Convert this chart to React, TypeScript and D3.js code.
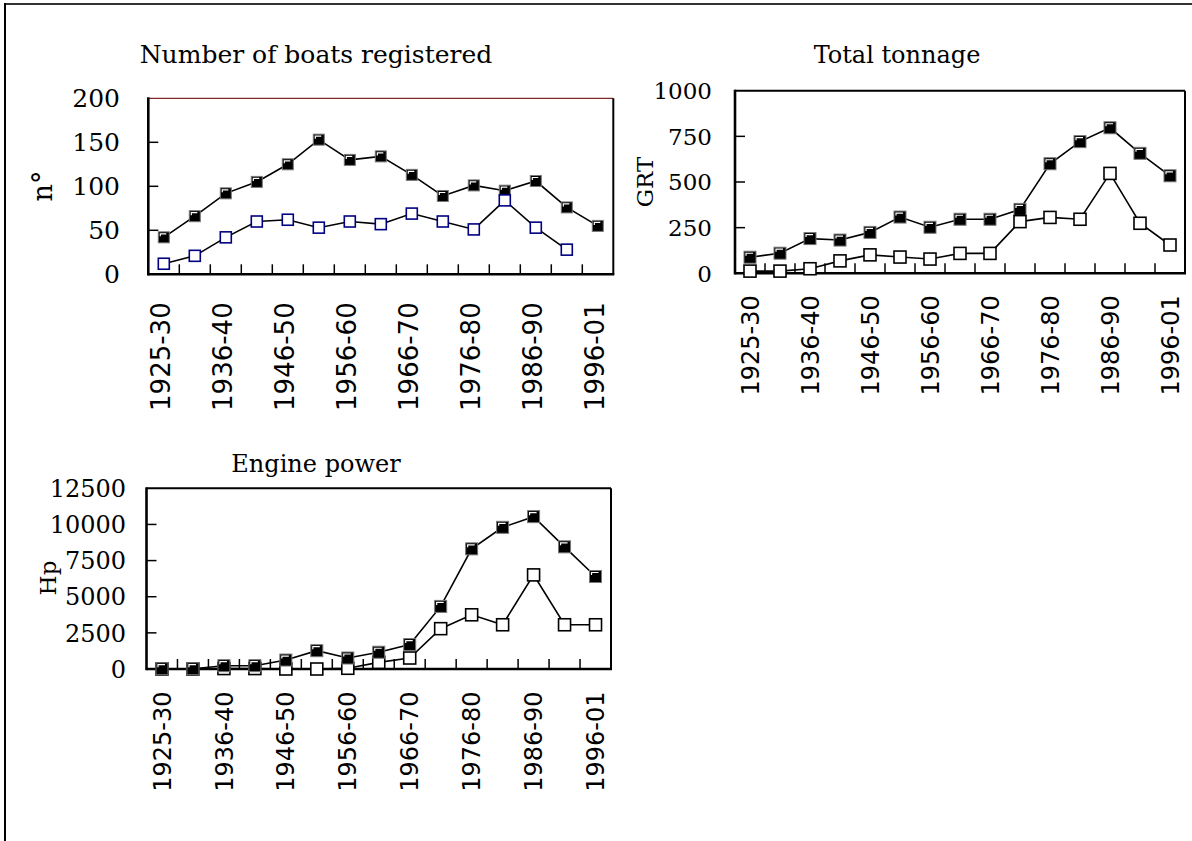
import React from "react";
import * as d3 from "d3";

const categories = [
  "1925-30", "1931-35", "1936-40", "1941-45", "1946-50", "1951-55", "1956-60", "1961-65",
  "1966-70", "1971-75", "1976-80", "1981-85", "1986-90", "1991-95", "1996-01",
];

const boatsTotal = [42, 66, 92, 105, 125, 153, 130, 134, 113, 89, 101, 95, 106, 76, 55];
const boatsActive: (number | null)[] = [12, 21, 42, 60, 62, 53, 60, 57, 69, 60, 51, 84, 53, 28, null];

const tonnageTotal = [88, 110, 190, 182, 224, 308, 252, 296, 296, 350, 600, 721, 797, 657, 534];
const tonnageActive = [12, 12, 25, 68, 101, 89, 78, 109, 109, 283, 306, 296, 547, 274, 155];

const powerTotal = [20, 20, 230, 230, 620, 1266, 760, 1160, 1690, 4330, 8310, 9800, 10540, 8450, 6400];
const powerActive = [0, 0, 30, 30, 0, 0, 50, 460, 760, 2790, 3750, 3060, 6510, 3060, 3060];

const boatsTicks = [0, 50, 100, 150, 200];
const tonnageTicks = [0, 250, 500, 750, 1000];
const powerTicks = [0, 2500, 5000, 7500, 10000, 12500];

type Series = { values: (number | null)[]; kind: "black" | "blue" | "white" };
type PanelCfg = {
  title: string; yLabel: string;
  x0: number; x1: number; y0: number; y1: number;
  yTicks: number[]; tickFont: number; tickRight: number;
  titleX: number; titleY: number; titleFont: number;
  yLabelX: number; yLabelY: number; yLabelFont: number;
  xLabelGap: number; xLabelDx: number; xLabelFont: number; topColor: string; topWidth: number;
  markerSize: number; series: Series[];
};

const panels: PanelCfg[] = [
  {
    title: "Number of boats registered", yLabel: "n°",
    x0: 148.3, x1: 613.3, y0: 98.3, y1: 274.3,
    yTicks: boatsTicks, tickFont: 25, tickRight: 120,
    titleX: 316, titleY: 63, titleFont: 25,
    yLabelX: 42, yLabelY: 186, yLabelFont: 27,
    xLabelGap: 28, xLabelDx: -3, xLabelFont: 26, topColor: "#7f2a2a", topWidth: 1.2,
    markerSize: 11,
    series: [{ values: boatsTotal, kind: "black" }, { values: boatsActive, kind: "blue" }],
  },
  {
    title: "Total tonnage", yLabel: "GRT",
    x0: 735, x1: 1185, y0: 90.7, y1: 273.3,
    yTicks: tonnageTicks, tickFont: 23, tickRight: 712,
    titleX: 897, titleY: 63, titleFont: 24,
    yLabelX: 645, yLabelY: 182, yLabelFont: 23,
    xLabelGap: 22, xLabelDx: 0, xLabelFont: 24, topColor: "#000", topWidth: 2,
    markerSize: 12,
    series: [{ values: tonnageTotal, kind: "black" }, { values: tonnageActive, kind: "white" }],
  },
  {
    title: "Engine power", yLabel: "Hp",
    x0: 146.5, x1: 611, y0: 488.3, y1: 669,
    yTicks: powerTicks, tickFont: 24, tickRight: 126,
    titleX: 316, titleY: 472, titleFont: 24,
    yLabelX: 48, yLabelY: 578, yLabelFont: 23,
    xLabelGap: 22.5, xLabelDx: 0, xLabelFont: 24, topColor: "#000", topWidth: 2,
    markerSize: 12,
    series: [{ values: powerActive, kind: "white" }, { values: powerTotal, kind: "black" }],
  },
];

const serif = "'DejaVu Serif', serif";
const sans = "'DejaVu Sans', sans-serif";

function Marker({ x, y, s, kind }: { x: number; y: number; s: number; kind: Series["kind"] }) {
  const h = s / 2;
  if (kind === "black") {
    return (
      <g>
        <rect x={x - h} y={y - h} width={s} height={s} fill="#000" stroke="#777" strokeWidth={1} />
        <path
          d={`M${x - h + 2},${y - h + 4.5} V${y - h + 2} H${x + h - 3}`}
          fill="none" stroke="#fff" strokeWidth={1.2}
        />
      </g>
    );
  }
  return (
    <rect
      x={x - h} y={y - h} width={s} height={s}
      fill="#fff" stroke={kind === "blue" ? "#000080" : "#000"} strokeWidth={1.6}
    />
  );
}

function Panel({ p }: { p: PanelCfg }) {
  const x = d3.scaleBand<string>().domain(categories).range([p.x0, p.x1]).padding(0);
  const yMax = p.yTicks[p.yTicks.length - 1];
  const y = d3.scaleLinear().domain([0, yMax]).range([p.y1, p.y0]);
  const cx = (c: string) => (x(c) as number) + x.bandwidth() / 2;
  const boundaries = categories.slice(1).map((c) => x(c) as number);

  return (
    <g>
      <text x={p.titleX} y={p.titleY} textAnchor="middle" fontFamily={serif} fontSize={p.titleFont} fill="#000">
        {p.title}
      </text>
      <text
        transform={`translate(${p.yLabelX},${p.yLabelY}) rotate(-90)`}
        textAnchor="middle" dy="0.36em" fontFamily={serif} fontSize={p.yLabelFont} fill="#000"
      >
        {p.yLabel}
      </text>
      {p.yTicks.map((t) => (
        <g key={t}>
          <text x={p.tickRight} y={y(t)} dy="0.36em" textAnchor="end" fontFamily={serif} fontSize={p.tickFont} fill="#000">
            {t}
          </text>
          {t !== 0 && t !== yMax && (
            <line x1={p.x0} x2={p.x0 + 10} y1={y(t)} y2={y(t)} stroke="#000" strokeWidth={1.5} />
          )}
        </g>
      ))}
      {boundaries.map((bx, i) => (
        <line key={i} x1={bx} x2={bx} y1={p.y1} y2={p.y1 - 10} stroke="#000" strokeWidth={1.5} />
      ))}
      <line x1={p.x0} x2={p.x1} y1={p.y0} y2={p.y0} stroke={p.topColor} strokeWidth={p.topWidth} />
      <line x1={p.x1} x2={p.x1} y1={p.y0} y2={p.y1} stroke="#000" strokeWidth={2} />
      <line x1={p.x0} x2={p.x0} y1={p.y0 - 1} y2={p.y1 + 1.2} stroke="#000" strokeWidth={2.6} />
      <line x1={p.x0} x2={p.x1 + 1} y1={p.y1} y2={p.y1} stroke="#000" strokeWidth={2.6} />
      {categories.map((c, i) =>
        i % 2 === 0 ? (
          <text
            key={c}
            transform={`translate(${cx(c) + p.xLabelDx},${p.y1 + p.xLabelGap}) rotate(-90)`}
            textAnchor="end" dy="0.36em" fontFamily={sans} fontSize={p.xLabelFont} fill="#000"
          >
            {c}
          </text>
        ) : null
      )}
      {p.series.map((s, si) => {
        const line = d3
          .line<number | null>()
          .defined((v) => v !== null)
          .x((_, i) => cx(categories[i]))
          .y((v) => y(v as number));
        return (
          <g key={si}>
            <path d={line(s.values) || ""} fill="none" stroke="#000" strokeWidth={1.6} />
            {s.values.map((v, i) =>
              v === null ? null : (
                <Marker key={i} x={cx(categories[i])} y={y(v)} s={p.markerSize} kind={s.kind} />
              )
            )}
          </g>
        );
      })}
    </g>
  );
}

export default function App() {
  return (
    <svg
      width={1192} height={841}
      style={{ position: "absolute", left: 0, top: 0, background: "#fff" }}
    >
      <rect x={0} y={0} width={1192} height={841} fill="#fff" />
      <line x1={5} x2={1192} y1={4} y2={4} stroke="#333" strokeWidth={2} />
      <line x1={5} x2={5} y1={3} y2={841} stroke="#000" strokeWidth={2} />
      {panels.map((p) => (
        <Panel key={p.title} p={p} />
      ))}
    </svg>
  );
}
